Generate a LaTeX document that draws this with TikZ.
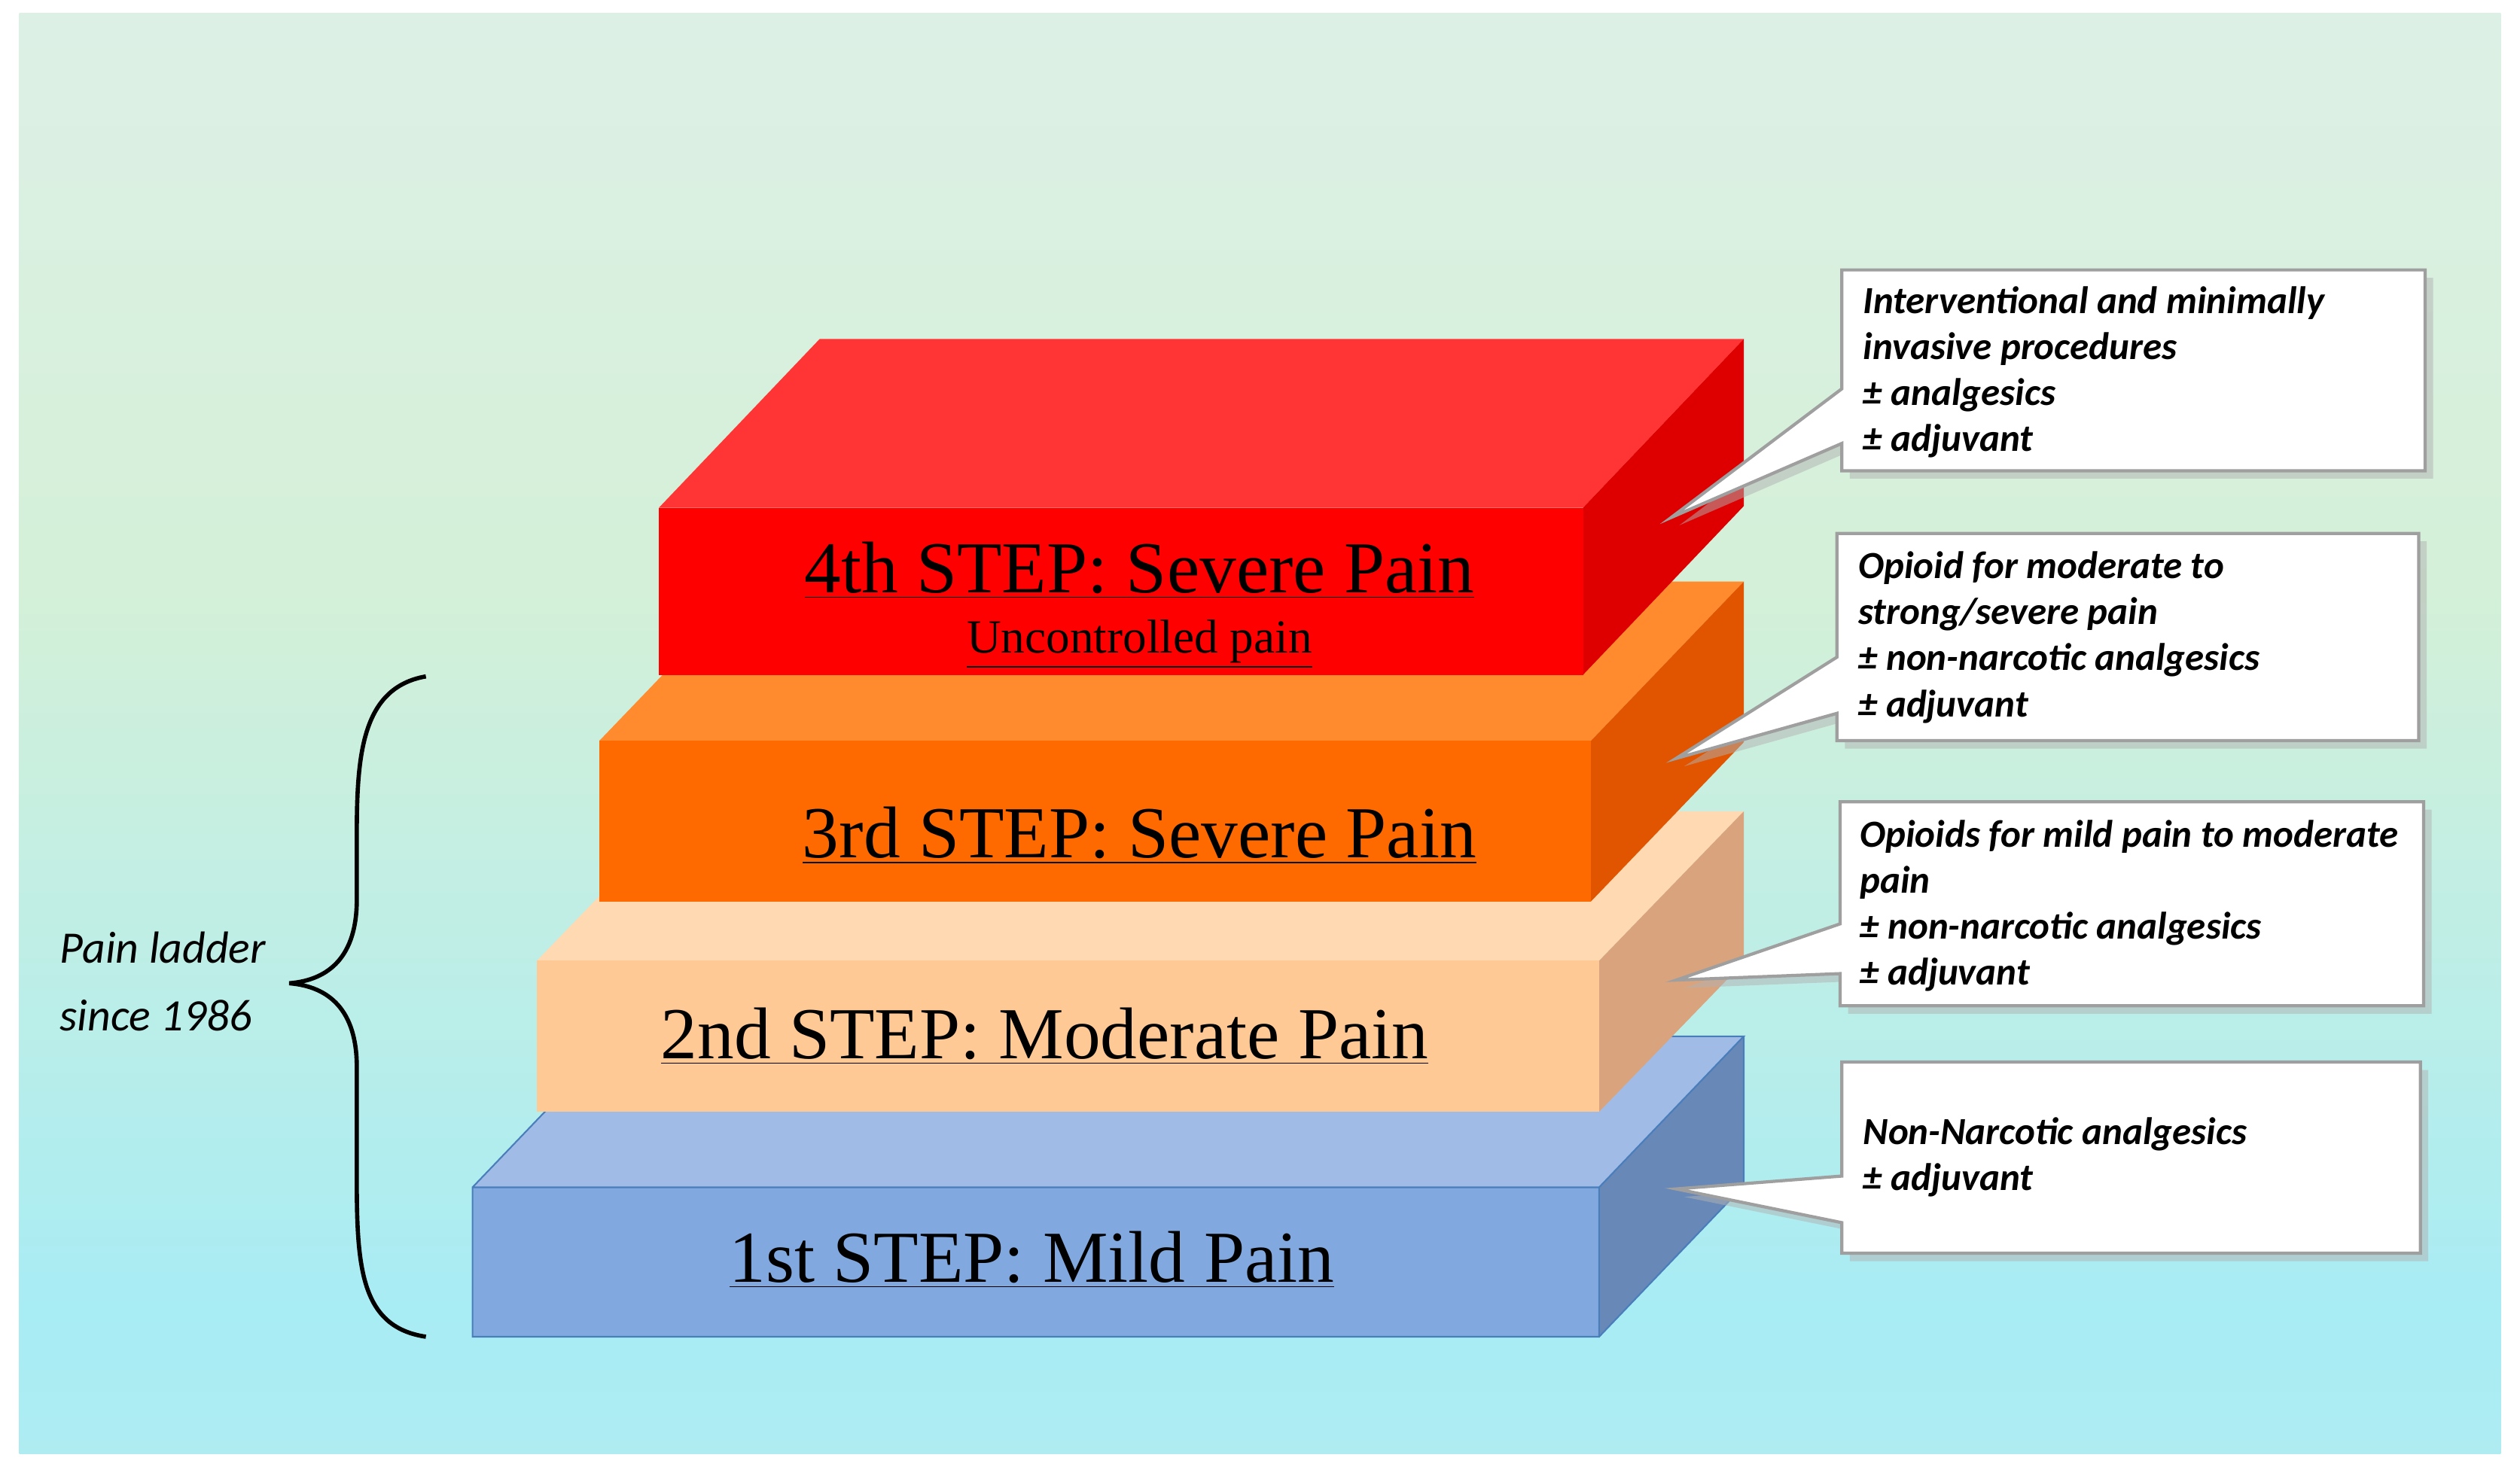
\documentclass[tikz,border=0pt]{standalone}
\usepackage{fontspec}
\setmainfont{Liberation Serif}
\newfontfamily\calib{Carlito}
\usetikzlibrary{shadows}
\definecolor{bgtop}{HTML}{E4F1FB}
\definecolor{bgtop2}{HTML}{E2F0EC}
\definecolor{bggrn}{HTML}{D4F0D8}
\definecolor{bgmid}{HTML}{A8ECF4}
\definecolor{bgbot}{HTML}{CDEFEA}
\pgfdeclareverticalshading{bgshade}{100bp}{
  color(0bp)=(bgbot); color(30bp)=(bgmid); color(55bp)=(bggrn);
  color(85bp)=(bgtop2); color(100bp)=(bgtop)}
\definecolor{redT}{HTML}{FF3434}
\definecolor{redF}{HTML}{FF0000}
\definecolor{redS}{HTML}{DE0000}
\definecolor{orT}{HTML}{FF8B2E}
\definecolor{orF}{HTML}{FF6A00}
\definecolor{orS}{HTML}{E25500}
\definecolor{peT}{HTML}{FFD9B2}
\definecolor{peF}{HTML}{FFC996}
\definecolor{peS}{HTML}{D9A47D}
\definecolor{blT}{HTML}{A0BCE6}
\definecolor{blF}{HTML}{82A9DF}
\definecolor{blS}{HTML}{6888B8}
\definecolor{blE}{HTML}{4A7EBB}
\tikzset{
  steplabel/.style={font=\fontsize{27.7}{30}\selectfont, text=black, inner sep=0pt},
  callout/.style={fill=white, draw=gray!75, line width=1.2pt,
    drop shadow={shadow xshift=3pt, shadow yshift=-3pt, fill=gray!60}},
  ctext/.style={font=\calib\bfseries\itshape\fontsize{14.5}{17.4}\selectfont,
    align=left, anchor=north west, inner sep=0pt},
}
% block: x1, x2, front top, front bottom, dx, dy, top/front/side colours
\newcommand{\slab}[9]{
  \fill[#7] (#1,#3) -- (#2,#3) -- (#2+#5,#3-#6) -- (#1+#5,#3-#6) -- cycle;
  \fill[#9] (#2,#3) -- (#2+#5,#3-#6) -- (#2+#5,#4-#6) -- (#2,#4) -- cycle;
  \fill[#8] (#1,#3) rectangle (#2,#4);
}
\begin{document}
\begin{tikzpicture}[x=0.021346cm, y=-0.021346cm]
\useasboundingbox (0,0) rectangle (1568,920.1);
\fill[white] (0,0) rectangle (1568,920.1);
\shade[shading=bgshade] (12,8) rectangle (1556,905);

% ladder slabs, bottom first
\slab{294}{995}{739}{832}{90}{94}{blT}{blF}{blS}
\draw[blE, line width=0.6pt] (294,739) rectangle (995,832)
  (294,739) -- (384,645) -- (1085,645) -- (995,739) (1085,645) -- (1085,738) -- (995,832);
\slab{334}{995}{598}{692}{90}{93}{peT}{peF}{peS}
\slab{373}{990}{461}{561}{95}{99}{orT}{orF}{orS}
\slab{410}{985}{316}{420}{100}{105}{redT}{redF}{redS}

% step labels
\node[steplabel] (s4) at (709,355) {\underline{4th STEP: Severe Pain}};
\node[steplabel, font=\fontsize{18}{20}\selectfont] (s4b) at (709,401) {\underline{Uncontrolled pain}};
\node[steplabel] (s3) at (709,520) {\underline{3rd STEP: Severe Pain}};
\node[steplabel] (s2) at (650,645) {\underline{2nd STEP: Moderate Pain}};
\node[steplabel] (s1) at (642,784) {\underline{1st STEP: Mild Pain}};

% brace and label
\draw[line width=1.6pt] (265,421) .. controls (225,428) and (222,470) .. (222,520)
  -- (222,560) .. controls (222,595) and (205,610) .. (180,612)
  .. controls (205,614) and (222,629) .. (222,664) -- (222,735)
  .. controls (222,790) and (225,826) .. (265,832);
\node[font=\calib\itshape\fontsize{17}{25.5}\selectfont, align=left, anchor=west, inner sep=0pt]
  (lad) at (37,611) {Pain ladder\\since 1986};

% callouts
\coordinate (t1) at (1040,322);
\coordinate (t2) at (1043,472);
\coordinate (t3) at (1043,610);
\coordinate (t4) at (1043,740);
\path[callout] (1146,168) -- (1509,168) -- (1509,293) -- (1146,293) -- (1146,276) -- (t1) -- (1146,242) -- cycle;
\path[callout] (1143,332) -- (1505,332) -- (1505,461) -- (1143,461) -- (1143,444) -- (t2) -- (1143,409) -- cycle;
\path[callout] (1145,499) -- (1508,499) -- (1508,626) -- (1145,626) -- (1145,606) -- (t3) -- (1145,575) -- cycle;
\path[callout] (1146,661) -- (1506,661) -- (1506,780) -- (1146,780) -- (1146,761) -- (t4) -- (1146,732) -- cycle;

\node[ctext] (c1) at (1159,178) {Interventional and minimally\\invasive procedures\\± analgesics\\± adjuvant};
\node[ctext] (c2) at (1156,343) {Opioid for moderate to\\strong/severe pain\\± non-narcotic analgesics\\± adjuvant};
\node[ctext] (c3) at (1157,510) {Opioids for mild pain to moderate\\pain\\± non-narcotic analgesics\\± adjuvant};
\node[ctext] (c4) at (1159,695) {Non-Narcotic analgesics\\± adjuvant};
\end{tikzpicture}
\end{document}
